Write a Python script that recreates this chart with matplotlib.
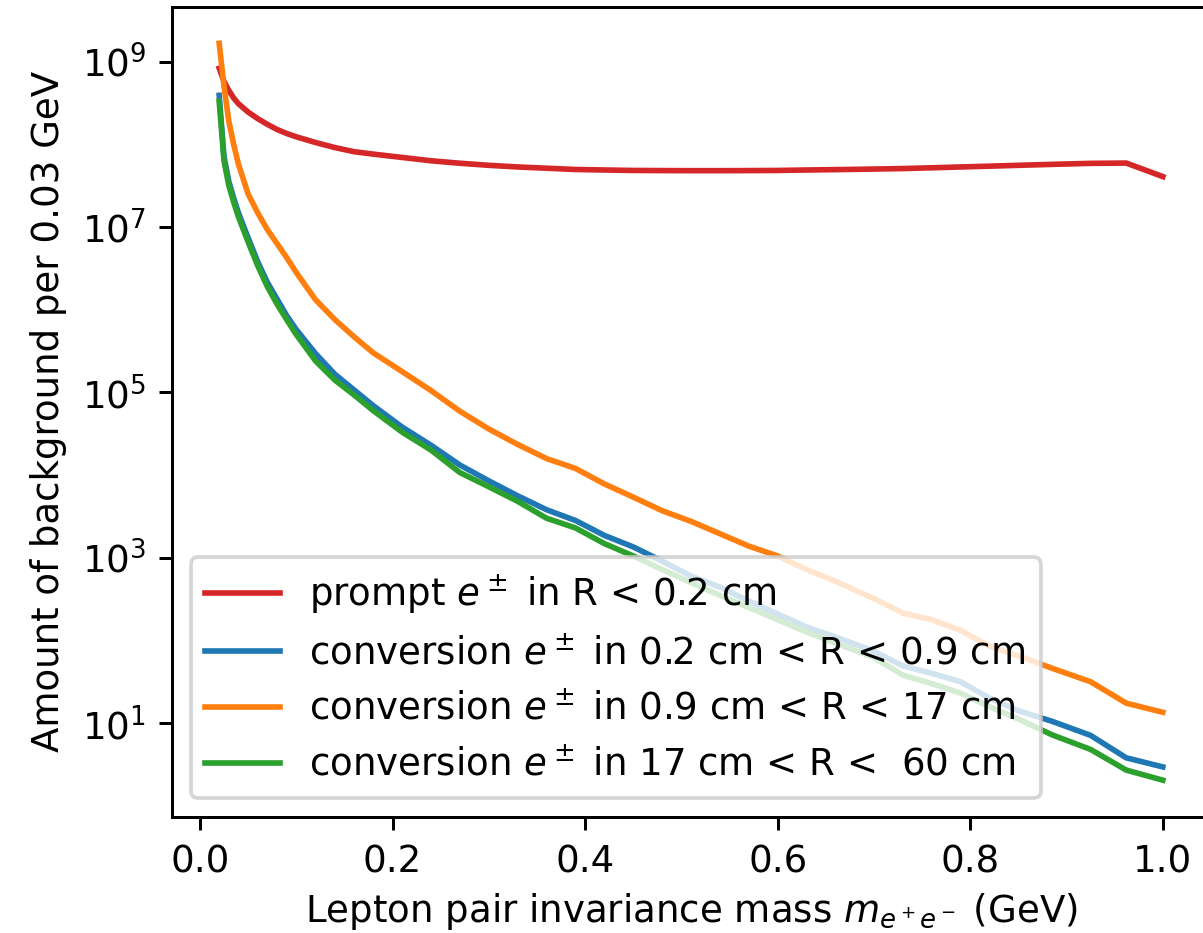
import matplotlib
matplotlib.use("Agg")
import matplotlib.pyplot as plt
from matplotlib.ticker import NullLocator

# ---- data ----
mass = [0.02, 0.025, 0.03, 0.035, 0.04, 0.05, 0.06, 0.07, 0.08, 0.09,
        0.10, 0.12, 0.14, 0.16, 0.18, 0.21, 0.24, 0.27, 0.30, 0.33,
        0.36, 0.39, 0.42, 0.45, 0.48, 0.51, 0.54, 0.57, 0.60, 0.63,
        0.66, 0.70, 0.73, 0.76, 0.79, 0.82, 0.85, 0.885, 0.925, 0.962, 1.0]

prompt = [8.3e8, 5.75e8, 4.47e8, 3.63e8, 3.09e8, 2.45e8, 2.04e8, 1.74e8, 1.51e8, 1.35e8,
          1.23e8, 1.05e8, 9.12e7, 8.13e7, 7.59e7, 6.92e7, 6.31e7, 5.89e7, 5.56e7, 5.31e7,
          5.13e7, 4.95e7, 4.88e7, 4.82e7, 4.80e7, 4.79e7, 4.79e7, 4.80e7, 4.82e7, 4.88e7,
          4.93e7, 5.01e7, 5.08e7, 5.19e7, 5.31e7, 5.43e7, 5.56e7, 5.71e7, 5.87e7, 5.92e7, 4.06e7]

conv_02_09 = [3.9e8, 7.1e7, 3.55e7, 2.24e7, 1.48e7, 7.4e6, 3.8e6, 2.14e6, 1.35e6, 8.5e5,
              5.75e5, 2.95e5, 1.66e5, 1.07e5, 6.9e4, 3.8e4, 2.29e4, 1.32e4, 8.5e3, 5.6e3,
              3.8e3, 2.82e3, 1.86e3, 1.35e3, 9.1e2, 6.0e2, 4.4e2, 3.0e2, 2.09e2, 1.45e2,
              1.10e2, 74, 49, 40, 31.6, 20, 14.1, 10.5, 7.1, 3.8, 2.95]

conv_09_17 = [1.66e9, 5.0e8, 1.9e8, 1.0e8, 5.75e7, 2.51e7, 1.48e7, 9.3e6, 6.3e6, 4.27e6,
              2.82e6, 1.32e6, 7.6e5, 4.7e5, 3.0e5, 1.78e5, 1.05e5, 5.9e4, 3.6e4, 2.34e4,
              1.58e4, 1.20e4, 7.8e3, 5.4e3, 3.7e3, 2.75e3, 1.95e3, 1.38e3, 1.05e3, 7.2e2,
              5.2e2, 3.2e2, 2.14e2, 1.78e2, 1.32e2, 85, 65, 46, 31.6, 17.4, 13.5]

conv_17_60 = [3.3e8, 6.3e7, 3.16e7, 2.0e7, 1.32e7, 6.6e6, 3.4e6, 1.9e6, 1.17e6, 7.6e5,
              5.0e5, 2.4e5, 1.41e5, 9.3e4, 6.0e4, 3.3e4, 2.0e4, 1.07e4, 7.2e3, 4.8e3,
              3.0e3, 2.29e3, 1.48e3, 1.05e3, 7.2e2, 5.0e2, 3.5e2, 2.5e2, 1.78e2, 1.26e2,
              93, 62, 38, 30, 23, 15.8, 11.2, 7.2, 4.8, 2.7, 2.04]

labels = [r"prompt $e^\pm$ in R < 0.2 cm",
          r"conversion $e^\pm$ in 0.2 cm < R < 0.9 cm",
          r"conversion $e^\pm$ in 0.9 cm < R < 17 cm",
          r"conversion $e^\pm$ in 17 cm < R <  60 cm"]
colors = ["tab:red", "tab:blue", "tab:orange", "tab:green"]
yticks = [1e1, 1e3, 1e5, 1e7, 1e9]

# ---- figure ----
plt.rcParams["font.size"] = 9.9
DPI = 270
fig = plt.figure(figsize=(1203 / DPI, 933 / DPI), dpi=DPI)
ax = fig.add_axes([172 / 1203, 1 - 817 / 933, (1210 - 172) / 1203, (817 - 6.5) / 933])

series = [prompt, conv_02_09, conv_09_17, conv_17_60]
for vals, lab, col in zip(series, labels, colors):
    ax.plot(mass, vals, color=col, label=lab)

ax.set_yscale("log")
ax.set_yticks(yticks)
ax.yaxis.set_minor_locator(NullLocator())
ax.set_xlabel(r"Lepton pair invariance mass $m_{e^+e^-}$ (GeV)", labelpad=3.0)
ax.set_ylabel("Amount of background per 0.03 GeV")
ax.legend(loc="lower left")

fig.savefig("out.png", dpi=DPI)
